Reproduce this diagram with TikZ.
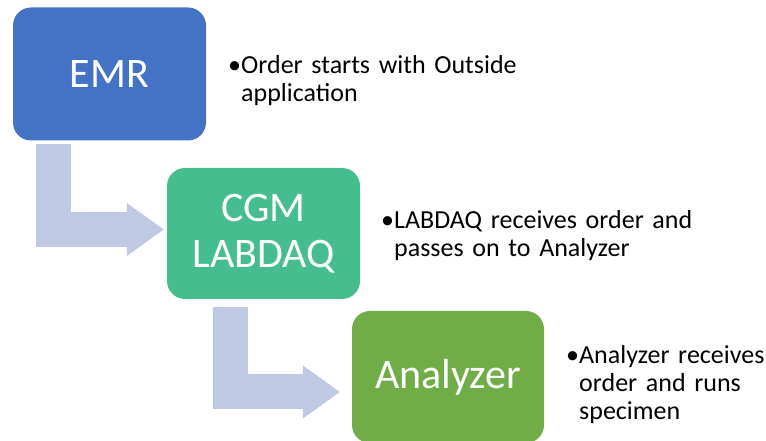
\documentclass[tikz,border=0pt]{standalone}
\usepackage{fontspec}
\setmainfont{Carlito}
\usetikzlibrary{arrows.meta}

\definecolor{emrblue}{HTML}{4472C4}
\definecolor{cgmgreen}{HTML}{45BD8E}
\definecolor{anagreen}{HTML}{70AD47}
\definecolor{flowblue}{HTML}{BFC9E4}

\begin{document}
\begin{tikzpicture}[x=1pt,y=1pt,
  stage/.style={rectangle, rounded corners=18pt, minimum width=193pt, minimum height=133pt,
    inner sep=0pt, text=white, align=center, font=\fontsize{42}{46}\selectfont},
  note/.style={anchor=base west, inner sep=0pt, align=left, text width=#1,
    font=\fontsize{26}{28}\selectfont},
  flow/.style={draw=flowblue, line width=35pt,
    -{Triangle[length=37pt,width=53pt,line width=0pt]}}]
\useasboundingbox (0,0) rectangle (766,441);
\clip (0,0) rectangle (766,441);

% the three stages
\node[stage, fill=emrblue] (emr) at (109.5,367) {EMR};
\node[stage, fill=cgmgreen, minimum height=131pt] (cgm) at (263.5,207.5) {CGM\\LABDAQ};
\node[stage, fill=anagreen, minimum width=192pt, minimum height=132pt] (ana) at (448,64) {Analyzer};

% bent arrows
\draw[flow] ([xshift=41pt,yshift=-3pt]emr.south west) |- ([xshift=-3pt,yshift=4pt]cgm.west);
\draw[flow] ([xshift=63.5pt,yshift=-8pt]cgm.south west) |- ([xshift=-12pt,yshift=-15pt]ana.west);

% notes
\node[note=320pt] (emrnote) at (228,367)
  {\makebox[13pt][l]{•}Order starts with Outside\\\hspace*{13pt}application};
\node[note=330pt] (cgmnote) at (381,212)
  {\makebox[13pt][l]{•}LABDAQ receives order and\\\hspace*{13pt}passes on to Analyzer};
\node[note=205pt] (ananote) at (566,77)
  {\makebox[13pt][l]{•}Analyzer receives\\\hspace*{13pt}order and runs\\\hspace*{13pt}specimen};
\end{tikzpicture}
\end{document}
